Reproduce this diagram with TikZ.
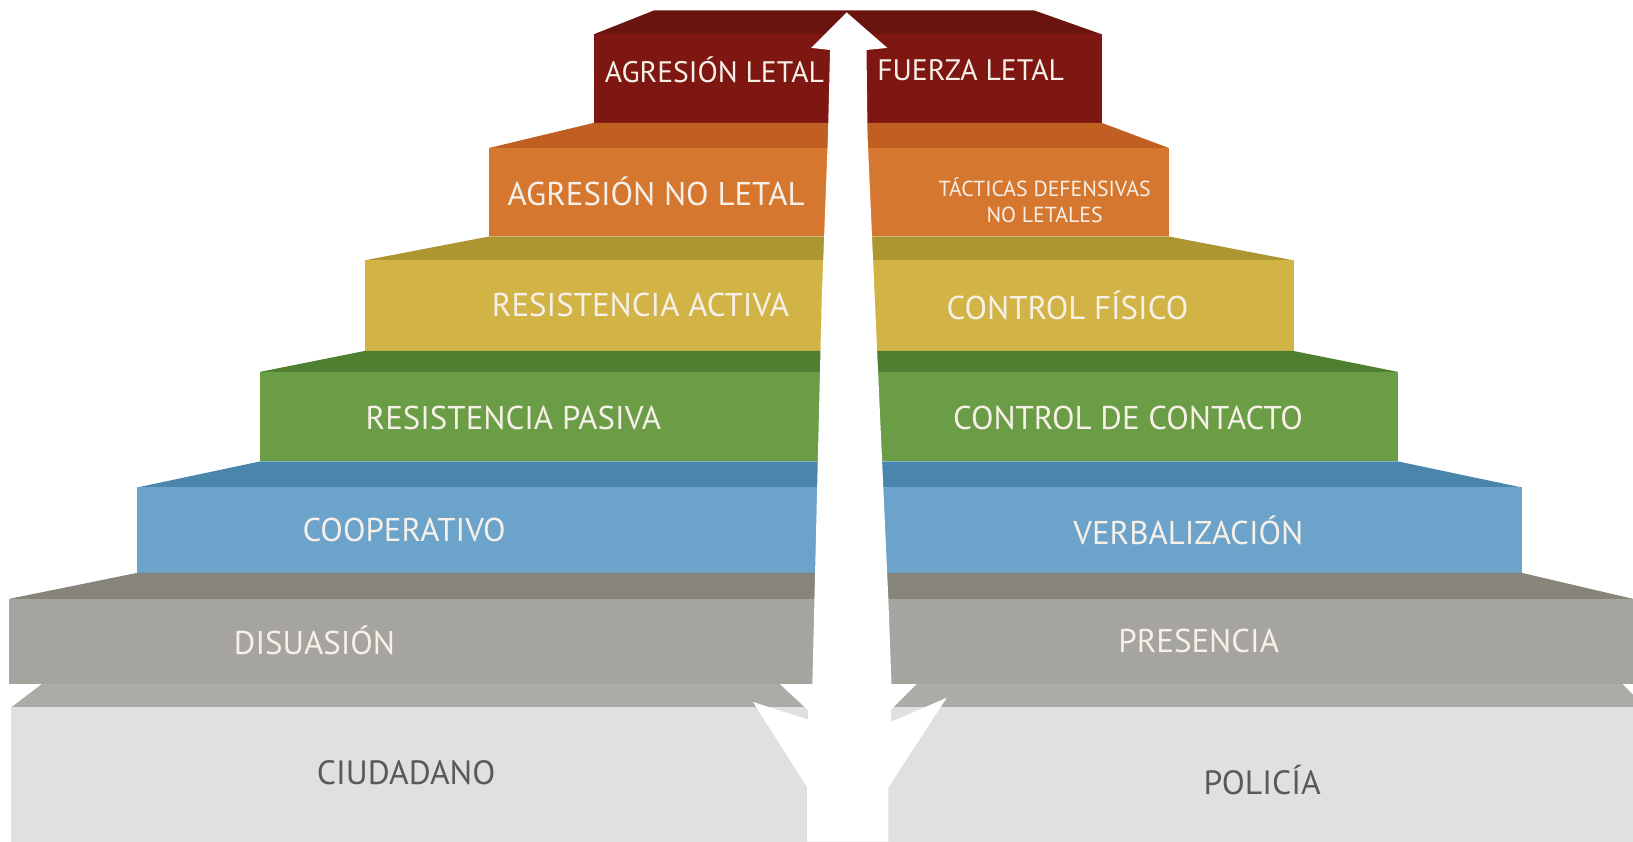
\documentclass[tikz,border=0pt]{standalone}
\usepackage{fontspec}
\setmainfont{PT Sans}
\usepackage{tikz}

\definecolor{redF}{HTML}{7E1711}
\definecolor{redB}{HTML}{6A1410}
\definecolor{orangeF}{HTML}{D6772F}
\definecolor{orangeB}{HTML}{C05F21}
\definecolor{yellowF}{HTML}{D2B446}
\definecolor{yellowB}{HTML}{AD9531}
\definecolor{greenF}{HTML}{6A9D46}
\definecolor{greenB}{HTML}{4F7F2F}
\definecolor{blueF}{HTML}{6BA3CB}
\definecolor{blueB}{HTML}{4A86AC}
\definecolor{grayF}{HTML}{A6A49F}
\definecolor{grayB}{HTML}{87847C}
\definecolor{bandC}{HTML}{ADABA6}
\definecolor{baseC}{HTML}{E0E0E0}
\definecolor{stepText}{HTML}{F6F0E8}
\definecolor{baseText}{HTML}{595959}

\begin{document}
\begin{tikzpicture}[x=0.02cm,y=-0.02cm]

		\tikzstyle{every node}=[inner sep=0pt]
		\tikzstyle{steptext}=[text=stepText,font=\fontsize{18}{20}\selectfont]
		\tikzstyle{toptext}=[text=stepText,font=\fontsize{16.2}{18}\selectfont]
		\tikzstyle{smalltext}=[text=stepText,font=\fontsize{11.9}{14.5}\selectfont,align=center]
		\tikzstyle{basetext}=[text=baseText,font=\fontsize{18.4}{20}\selectfont]

		\useasboundingbox (0,0) rectangle (1568,808);

		% escalones
		\fill[redB] (628,10) -- (993,10) -- (1058,33) -- (570,33) -- cycle;
		\fill[redF] (570,33) rectangle (1058,118);
		\fill[orangeB] (570,118) -- (1058,118) -- (1122,142) -- (470,142) -- cycle;
		\fill[orangeF] (470,142) rectangle (1122,227);
		\fill[yellowB] (470,227) -- (1122,227) -- (1242,250) -- (350,250) -- cycle;
		\fill[yellowF] (350,250) rectangle (1242,337);
		\fill[greenB] (350,337) -- (1242,337) -- (1342,357) -- (250,357) -- cycle;
		\fill[greenF] (250,357) rectangle (1342,443);
		\fill[blueB] (250,443) -- (1342,443) -- (1461,468) -- (132,468) -- cycle;
		\fill[blueF] (132,468) rectangle (1461,550);
		\fill[grayB] (132,550) -- (1461,550) -- (1568,575) -- (9,575) -- cycle;
		\fill[grayF] (9,575) rectangle (1568,657);
		\fill[bandC] (40,657) -- (1558,657) -- (1568,667) -- (1568,679) -- (11,679) -- cycle;
		\fill[baseC] (11,679) rectangle (1568,808);

		% flecha
		\fill[white] (813,12) -- (852,46) -- (832,48) -- (833,130) -- (840,288)
			-- (853,576) -- (856,657) -- (880,657) -- (855,682) -- (856,693)
			-- (909,670) -- (853,756) -- (853,808) -- (775,808) -- (775,756)
			-- (723,674) -- (776,691) -- (776,682) -- (749,657) -- (780,657)
			-- (782,576) -- (789,288) -- (795,130) -- (797,48) -- (779,46) -- cycle;

		% textos
		\node[toptext] (agrLetal) at (686,67) {AGRESIÓN LETAL};
		\node[toptext] (fzaLetal) at (932,67) {FUERZA LETAL};
		\node[steptext] (agrNoLetal) at (630,184) {AGRESIÓN NO LETAL};
		\node[smalltext] (tacticas) at (1003,192) {TÁCTICAS DEFENSIVAS\\NO LETALES};
		\node[steptext] (resActiva) at (615,293) {RESISTENCIA ACTIVA};
		\node[steptext] (ctrlFisico) at (1025,293) {CONTROL FÍSICO};
		\node[steptext] (resPasiva) at (493,401) {RESISTENCIA PASIVA};
		\node[steptext] (ctrlContacto) at (1083,401) {CONTROL DE CONTACTO};
		\node[steptext] (cooperativo) at (388,509) {COOPERATIVO};
		\node[steptext] (verbal) at (1141,509) {VERBALIZACIÓN};
		\node[steptext] (disuasion) at (302,615) {DISUASIÓN};
		\node[steptext] (presencia) at (1151,615) {PRESENCIA};
		\node[basetext] (ciudadano) at (390,742) {CIUDADANO};
		\node[basetext] (policia) at (1212,749) {POLICÍA};

\end{tikzpicture}
\end{document}
